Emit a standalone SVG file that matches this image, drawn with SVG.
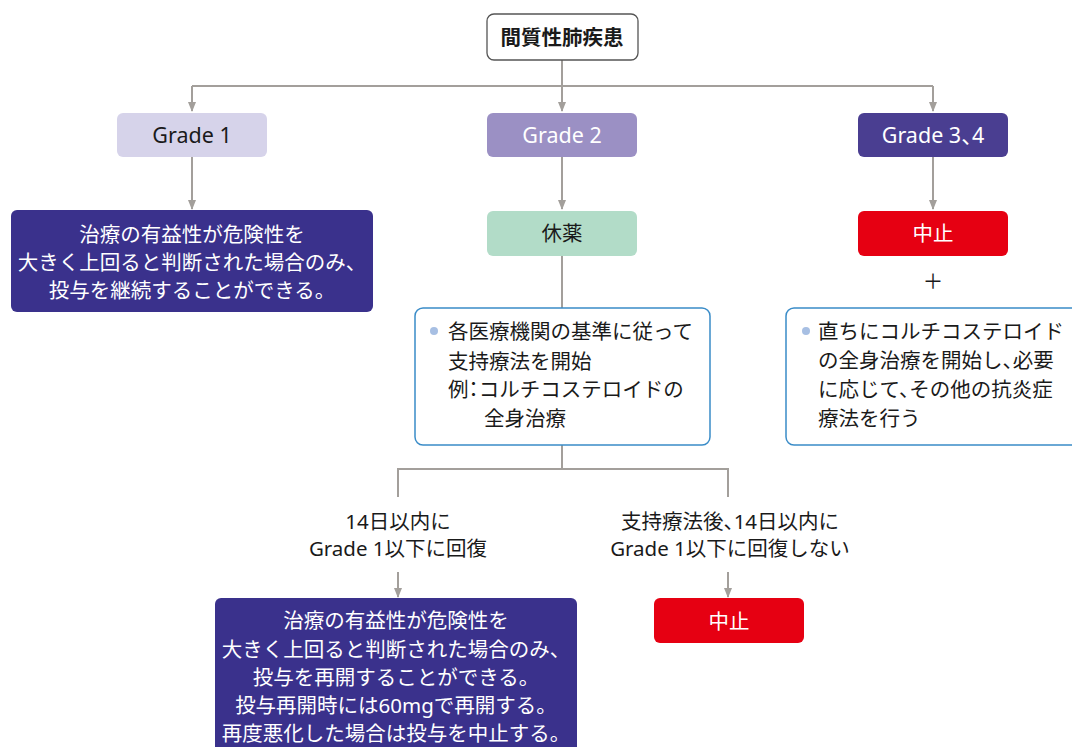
<svg xmlns="http://www.w3.org/2000/svg" width="1072" height="747" viewBox="0 0 1072 747">
<defs>
<marker id="ah" markerWidth="10" markerHeight="8" refX="9" refY="4" orient="auto" markerUnits="userSpaceOnUse">
<path d="M0,0 L10,4 L0,8 Z" fill="#a39f9b"/>
</marker>
<style>
text{font-family:"Noto Sans","Noto Sans CJK JP",sans-serif;font-size:20.5px}
.c{text-anchor:middle}
.w{fill:#fff}
.k{fill:#1a1a1a}
.g{font-size:21.5px}
.h{font-feature-settings:"halt"}
.ln{fill:none;stroke:#a39f9b;stroke-width:2}
.dark{fill:#3a318c}
.blue{fill:#fff;stroke:#3a8cc8;stroke-width:1.5}
.dot{fill:#a7bfe3}
</style>
</defs>
<rect width="1072" height="747" fill="#fff"/>
<g id="connectors">
<path class="ln" d="M562,60 V86 M192,86 H933"/>
<path class="ln" d="M192,86 V111" marker-end="url(#ah)"/>
<path class="ln" d="M562,86 V111" marker-end="url(#ah)"/>
<path class="ln" d="M933,86 V111" marker-end="url(#ah)"/>
<path class="ln" d="M192,157 V209" marker-end="url(#ah)"/>
<path class="ln" d="M562,157 V209" marker-end="url(#ah)"/>
<path class="ln" d="M933,157 V209" marker-end="url(#ah)"/>
<path class="ln" d="M562,256 V308"/>
<path class="ln" d="M562,445 V469 M398,497 V469 H728 V497"/>
<path class="ln" d="M398,572 V597" marker-end="url(#ah)"/>
<path class="ln" d="M728,572 V597" marker-end="url(#ah)"/>
</g>
<g id="root">
<rect x="487" y="14" width="151" height="46" rx="7" fill="#fff" stroke="#555" stroke-width="1.3"/>
<text class="c k" x="562" y="45" font-weight="bold" font-size="19.5">間質性肺疾患</text>
</g>
<g id="grade1">
<rect x="117" y="113" width="150" height="44" rx="6" fill="#d6d3ea"/>
<text class="c k g" x="192" y="143">Grade 1</text>
</g>
<g id="grade2">
<rect x="487" y="113" width="150" height="44" rx="6" fill="#9b90c4"/>
<text class="c w g" x="562" y="143">Grade 2</text>
</g>
<g id="grade34">
<rect x="858" y="113" width="150" height="44" rx="6" fill="#4a3e91"/>
<text class="c w g h" x="933" y="143">Grade 3、4</text>
</g>
<g id="continue">
<rect class="dark" x="11" y="210" width="362" height="102" rx="6"/>
<text class="c w" x="192" y="242">治療の有益性が危険性を</text>
<text class="c w" x="192" y="270">大きく上回ると判断された場合のみ、</text>
<text class="c w" x="192" y="298">投与を継続することができる。</text>
</g>
<g id="kyuyaku">
<rect x="487" y="211" width="150" height="45" rx="6" fill="#b2dcc8"/>
<text class="c k" x="562" y="241">休薬</text>
</g>
<g id="stop1">
<rect x="858" y="211" width="150" height="45" rx="6" fill="#e60012"/>
<text class="c w" x="933" y="241">中止</text>
</g>
<g id="plus">
<text class="c k" x="933" y="289" font-size="22">＋</text>
</g>
<g id="support">
<rect class="blue" x="415" y="308" width="295" height="137" rx="8"/>
<circle class="dot" cx="434" cy="331" r="4"/>
<text class="k" x="448" y="339">各医療機関の基準に従って</text>
<text class="k" x="448" y="369">支持療法を開始</text>
<text class="k h" x="448" y="397">例：コルチコステロイドの</text>
<text class="k" x="484" y="426">全身治療</text>
</g>
<g id="steroid">
<rect class="blue" x="786" y="308" width="300" height="137" rx="8"/>
<circle class="dot" cx="806" cy="331" r="4"/>
<text class="k" x="818" y="339">直ちにコルチコステロイド</text>
<text class="k h" x="818" y="368">の全身治療を開始し、必要</text>
<text class="k h" x="818" y="397">に応じて、その他の抗炎症</text>
<text class="k" x="818" y="426">療法を行う</text>
</g>
<g id="label-recover">
<text class="c k" x="398" y="529">14日以内に</text>
<text class="c k" x="398" y="556">Grade 1以下に回復</text>
</g>
<g id="label-norecover">
<text class="c k h" x="730" y="529">支持療法後、14日以内に</text>
<text class="c k" x="730" y="556">Grade 1以下に回復しない</text>
</g>
<g id="resume">
<rect class="dark" x="215" y="598" width="362" height="160" rx="6"/>
<text class="c w" x="396" y="628">治療の有益性が危険性を</text>
<text class="c w" x="396" y="657">大きく上回ると判断された場合のみ、</text>
<text class="c w" x="396" y="685">投与を再開することができる。</text>
<text class="c w" x="396" y="713">投与再開時には60mgで再開する。</text>
<text class="c w" x="396" y="741">再度悪化した場合は投与を中止する。</text>
</g>
<g id="stop2">
<rect x="654" y="598" width="150" height="45" rx="6" fill="#e60012"/>
<text class="c w" x="729" y="629">中止</text>
</g>
</svg>
